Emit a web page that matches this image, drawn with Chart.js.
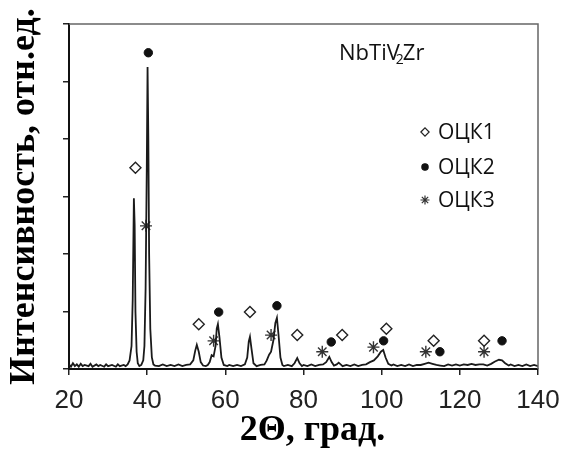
<!DOCTYPE html>
<html>
<head>
<meta charset="utf-8">
<script src="https://cdn.jsdelivr.net/npm/chart.js@4/dist/chart.umd.min.js"></script>
<style>
  html, body { margin: 0; padding: 0; background: #fff; }
  #wrap { width: 564px; height: 456px; }
</style>
</head>
<body>
<div id="wrap"><canvas id="xrd" width="564" height="456"></canvas></div>
<script>
// 2Theta (deg) and intensity (arb. units, axis runs 0..6)
const angle = [
  20, 20.5, 21, 21.5, 22, 22.5, 23, 23.5, 24, 25, 25.5, 26, 27, 27.5, 28, 29, 29.5, 30,
  31, 32, 32.5, 33, 34, 34.5, 35, 35.5, 36, 36.3, 36.6, 36.8, 37.0, 37.3, 37.6, 38, 38.5,
  39, 39.3, 39.6, 39.9, 40.1, 40.3, 40.5, 40.8, 41.2, 41.6, 42, 43, 44, 45, 46, 47, 48,
  49, 50, 51, 51.8, 52.3, 52.7, 53.2, 53.7, 54.3, 55, 55.5, 56, 56.5, 57.0, 57.5, 57.8,
  58.1, 58.5, 59.0, 59.6, 60.5, 61, 62, 63, 64, 65, 65.6, 66.0, 66.3, 66.7, 67.2, 68, 69,
  70, 70.6, 71.2, 71.7, 72.3, 72.8, 73.2, 73.6, 74.1, 74.6, 75, 76, 77, 77.7, 78.4, 79.0,
  79.6, 80, 81, 82, 83, 84, 85, 85.8, 86.6, 87.2, 87.8, 88.5, 89, 89.5, 90, 91, 92, 93,
  94, 95, 96, 97, 98, 99, 99.8, 100.4, 101, 101.7, 102.5, 103, 104, 105, 106, 107, 108,
  109, 110, 111, 112, 113, 114, 115, 116, 117, 118, 119, 120, 121, 122, 123, 124, 125,
  126, 127, 128, 129, 130, 130.8, 131.6, 132.5, 133, 134, 135, 136, 137, 138, 139, 140
];
const intensity = [
  0.08, 0.04, 0.10, 0.05, 0.08, 0.04, 0.09, 0.05, 0.07, 0.05, 0.09, 0.04, 0.08, 0.05, 0.07, 0.04, 0.08, 0.05,
  0.07, 0.04, 0.08, 0.05, 0.07, 0.05, 0.08, 0.15, 0.4, 1.2, 2.97, 2.5, 1.0, 0.3, 0.1, 0.05, 0.07,
  0.15, 0.4, 1.4, 3.5, 5.25, 4.0, 2.0, 0.7, 0.2, 0.08, 0.06, 0.05, 0.08, 0.05, 0.07, 0.05, 0.08,
  0.05, 0.07, 0.08, 0.15, 0.32, 0.42, 0.3, 0.12, 0.06, 0.05, 0.07, 0.12, 0.24, 0.22, 0.4, 0.7,
  0.78, 0.55, 0.2, 0.07, 0.05, 0.07, 0.05, 0.07, 0.05, 0.08, 0.2, 0.48, 0.56, 0.35, 0.1, 0.05, 0.07,
  0.08, 0.15, 0.25, 0.3, 0.5, 0.8, 0.89, 0.6, 0.2, 0.07, 0.05, 0.07, 0.05, 0.1, 0.19, 0.1,
  0.05, 0.07, 0.05, 0.08, 0.05, 0.07, 0.08, 0.12, 0.21, 0.12, 0.06, 0.08, 0.11, 0.08, 0.05, 0.07, 0.05, 0.08,
  0.05, 0.07, 0.08, 0.12, 0.15, 0.22, 0.3, 0.33, 0.2, 0.09, 0.06, 0.08, 0.05, 0.07, 0.05, 0.08, 0.05,
  0.07, 0.07, 0.09, 0.11, 0.09, 0.07, 0.06, 0.05, 0.08, 0.06, 0.08, 0.06, 0.08, 0.07, 0.09, 0.07, 0.08,
  0.08, 0.06, 0.09, 0.13, 0.16, 0.15, 0.1, 0.06, 0.08, 0.05, 0.07, 0.05, 0.08, 0.05, 0.07, 0.05
];

// phase markers (x = 2Theta, y = marker height)
const bcc1X = [37.0, 53.2, 66.3, 78.4, 89.9, 101.2, 113.3, 126.2];
const bcc1Y = [3.50, 0.78, 0.99, 0.59, 0.59, 0.70, 0.49, 0.49];
const bcc2X = [40.3, 58.3, 73.2, 87.1, 100.5, 114.9, 130.8];
const bcc2Y = [5.50, 0.99, 1.10, 0.47, 0.49, 0.30, 0.49];
const bcc3X = [39.7, 57.0, 71.7, 84.8, 97.9, 111.3, 126.2];
const bcc3Y = [2.49, 0.49, 0.59, 0.30, 0.38, 0.30, 0.30];

const xTicks = [20, 40, 60, 80, 100, 120, 140];
const phaseNames = ['ОЦК1', 'ОЦК2', 'ОЦК3'];

function pts(xs, ys) {
  return xs.map((x, i) => ({ x: x, y: ys[i] }));
}

const markerStyles = [
  { pointStyle: 'rectRot', radius: 5.5, bg: '#fff', border: '#222', bw: 1.4 },
  { pointStyle: 'circle', radius: 4.2, bg: '#111', border: '#111', bw: 1 },
  { pointStyle: 'star', radius: 6, bg: '#222', border: '#333', bw: 1.4 }
];

function markerSet(label, xs, ys, st) {
  return {
    label: label,
    data: pts(xs, ys),
    showLine: false,
    pointStyle: st.pointStyle,
    pointRadius: st.radius,
    pointBackgroundColor: st.bg,
    pointBorderColor: st.border,
    pointBorderWidth: st.bw
  };
}

// frame, sample name and legend
const decor = {
  id: 'decor',
  afterDatasetsDraw(chart) {
    const ctx = chart.ctx;
    const a = chart.chartArea;
    ctx.save();
    ctx.strokeStyle = '#666';
    ctx.lineWidth = 1.5;
    ctx.beginPath();
    ctx.moveTo(a.left, a.top);
    ctx.lineTo(a.right, a.top);
    ctx.lineTo(a.right, a.bottom);
    ctx.stroke();

    ctx.fillStyle = '#111';
    ctx.textBaseline = 'alphabetic';
    ctx.font = '22px "Open Sans"';
    let x = 339, y = 60;
    ctx.fillText('NbTiV', x, y);
    x += ctx.measureText('NbTiV').width - 4;
    ctx.font = '14px "Open Sans"';
    ctx.fillText('2', x, y + 4);
    x += ctx.measureText('2').width - 1;
    ctx.font = '22px "Open Sans"';
    ctx.fillText('Zr', x, y);

    ctx.font = '21px "Open Sans"';
    ctx.textBaseline = 'middle';
    const legY = [132, 167, 200];
    phaseNames.forEach((name, i) => {
      const st = markerStyles[i];
      ctx.fillStyle = st.bg;
      ctx.strokeStyle = st.border;
      ctx.lineWidth = 1.2;
      Chart.helpers.drawPoint(ctx, { pointStyle: st.pointStyle, radius: st.radius * 0.75, borderWidth: 1.2 }, 425, legY[i]);
      ctx.fillStyle = '#111';
      ctx.fillText(name, 438, legY[i] + 1);
    });
    ctx.restore();
  }
};

new Chart(document.getElementById('xrd'), {
  type: 'scatter',
  data: {
    datasets: [
      {
        label: 'NbTiV2Zr',
        data: pts(angle, intensity),
        showLine: true,
        borderColor: '#1a1a1a',
        borderWidth: 1.8,
        pointRadius: 0,
        tension: 0
      },
      markerSet(phaseNames[0], bcc1X, bcc1Y, markerStyles[0]),
      markerSet(phaseNames[1], bcc2X, bcc2Y, markerStyles[1]),
      markerSet(phaseNames[2], bcc3X, bcc3Y, markerStyles[2])
    ]
  },
  plugins: [decor],
  options: {
    responsive: false,
    animation: false,
    layout: { padding: { top: 24, right: 26, left: 0, bottom: 0 } },
    plugins: { legend: { display: false }, tooltip: { enabled: false } },
    scales: {
      x: {
        type: 'linear',
        min: 20,
        max: 140,
        afterBuildTicks: s => { s.ticks = xTicks.map(v => ({ value: v })); },
        afterFit: s => { s.height = 87; s.paddingLeft = 0; s.paddingRight = 0; },
        grid: { drawOnChartArea: false, tickLength: 6, color: '#222', lineWidth: 1.5 },
        border: { color: '#111', width: 2 },
        ticks: { color: '#222', padding: 10, maxRotation: 0, font: { family: '"Liberation Sans"', size: 26 } },
        title: {
          display: true,
          text: '  2Θ, град.',
          color: '#000',
          padding: { top: 0, bottom: 4 },
          font: { family: '"Liberation Serif"', size: 36, weight: 'bold' }
        }
      },
      y: {
        min: 0,
        max: 6,
        afterFit: s => { s.width = 69; },
        grid: { drawOnChartArea: false, tickLength: 6, color: '#222', lineWidth: 1.5 },
        border: { color: '#111', width: 2 },
        ticks: { display: false, stepSize: 1 },
        title: {
          display: true,
          text: 'Интенсивность, отн.ед.',
          color: '#000',
          padding: { top: 3, bottom: 0 },
          font: { family: '"Liberation Serif"', size: 36, weight: 'bold' }
        }
      }
    }
  }
});
</script>
</body>
</html>
